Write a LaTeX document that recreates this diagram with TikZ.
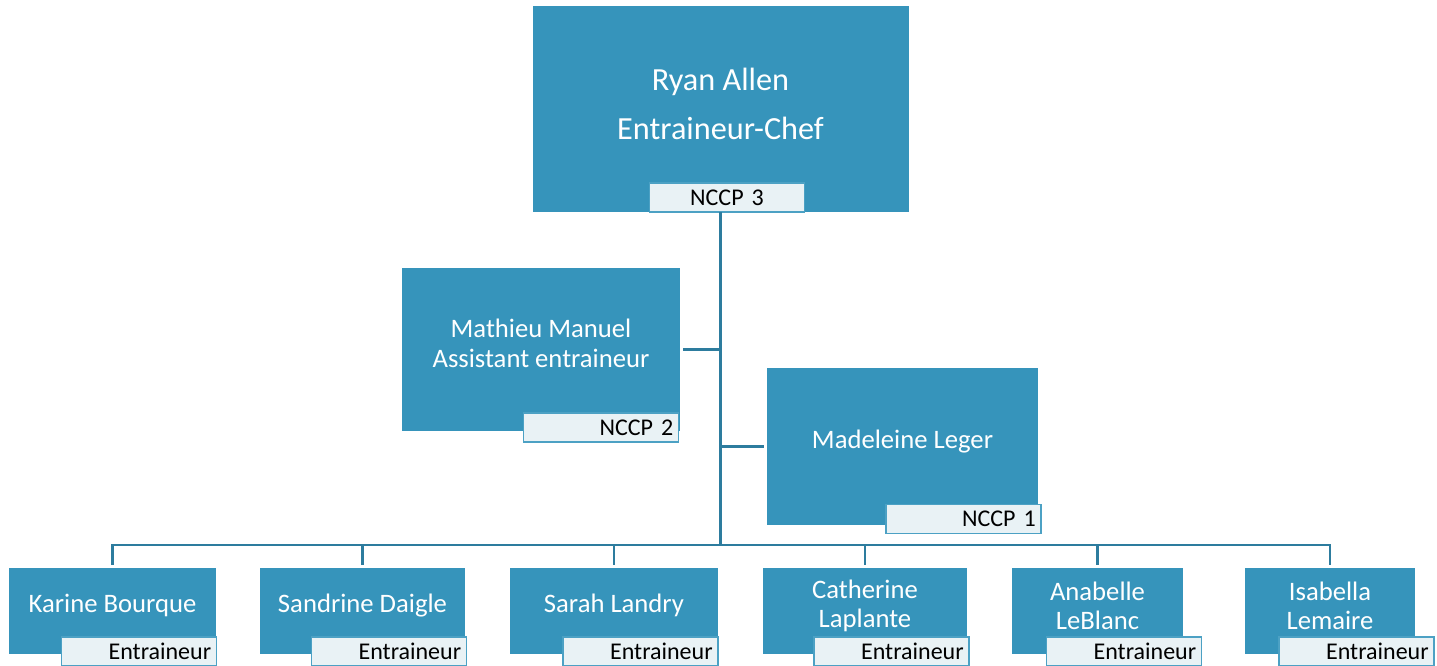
\documentclass[tikz,border=0pt]{standalone}
\usepackage{fontspec}
\setmainfont{Carlito}
\definecolor{boxblue}{RGB}{54,148,187}
\definecolor{linkblue}{RGB}{45,124,158}
\definecolor{tagfill}{RGB}{233,242,245}
\definecolor{tagline}{RGB}{76,161,196}
\newcommand{\headfont}{\fontsize{24.2}{36.75}\selectfont}
\newcommand{\namefont}{\fontsize{20}{22.5}\selectfont}
\newcommand{\teamfont}{\fontsize{20}{21.75}\selectfont}
\begin{document}
\begin{tikzpicture}[x=0.75pt,y=-0.75pt,
  box/.style={fill=boxblue, inner sep=0pt},
  who/.style={text=white, align=center, inner sep=0pt},
  tag/.style={fill=tagfill, draw=tagline, line width=1.1pt, text width=108.25pt, inner xsep=4pt, inner ysep=0pt,
    minimum height=21.75pt, align=right, font=\fontsize{18}{19}\selectfont},
  link/.style={draw=linkblue, line width=2.2pt}]
\useasboundingbox (0,0) rectangle (1437,665);
\node[box, minimum width=282pt, minimum height=154.5pt] (ra) at (720.5,109) {};
\node[who, font=\headfont] (raname) at (720.5,103.5) {Ryan Allen\\Entraineur-Chef};
\node[tag, align=center] (ratag) at (727,197.5) {NCCP 3};
\node[box, minimum width=208.5pt, minimum height=122.25pt] (mm) at (541,349.5) {};
\node[who, font=\namefont] (mmname) at (541,343) {Mathieu Manuel\\Assistant entraineur};
\node[tag] (mmtag) at (601,427.5) {NCCP 2};
\node[box, minimum width=203.25pt, minimum height=117.75pt] (ml) at (902.5,446.5) {};
\node[who, font=\namefont] (mlname) at (902.5,442) {Madeleine Leger};
\node[tag] (mltag) at (963.5,519) {NCCP 1};
\foreach \id/\cx/\w/\txt in {kb/112.5/155.25/Karine Bourque, sd/362.5/153.75/Sandrine Daigle,
  sl/614/156/Sarah Landry, cl/865/153/Catherine\\Laplante, al/1097.5/128.25/Anabelle\\LeBlanc,
  il/1330/127.5/Isabella\\Lemaire} {
  \node[box, minimum width=\w pt, minimum height=64.5pt] (\id) at (\cx,611) {};
  \node[who, font=\teamfont] (\id name) at (\cx,605.5) {\txt};
  \node[tag] (\id tag) at (\cx+26.5,651.5) {Entraineur};
}
\coordinate (bus) at (0,545);
\coordinate (hub) at (ra.south |- bus);
\draw[link] (ra.south) -- (hub);
\draw[link, shorten <=2.25pt] (mm.east) -- (mm.east -| hub);
\draw[link, shorten >=2.25pt] (ml.west -| hub) -- (ml.west);
\draw[link, shorten <=2.25pt, shorten >=2.25pt] (kb.north) -- (kb.north |- bus) -- (il.north |- bus) -- (il.north);
\foreach \id in {sd,sl,cl,al}
  \draw[link, shorten <=2.25pt] (\id.north) -- (\id.north |- bus);
\end{tikzpicture}
\end{document}
